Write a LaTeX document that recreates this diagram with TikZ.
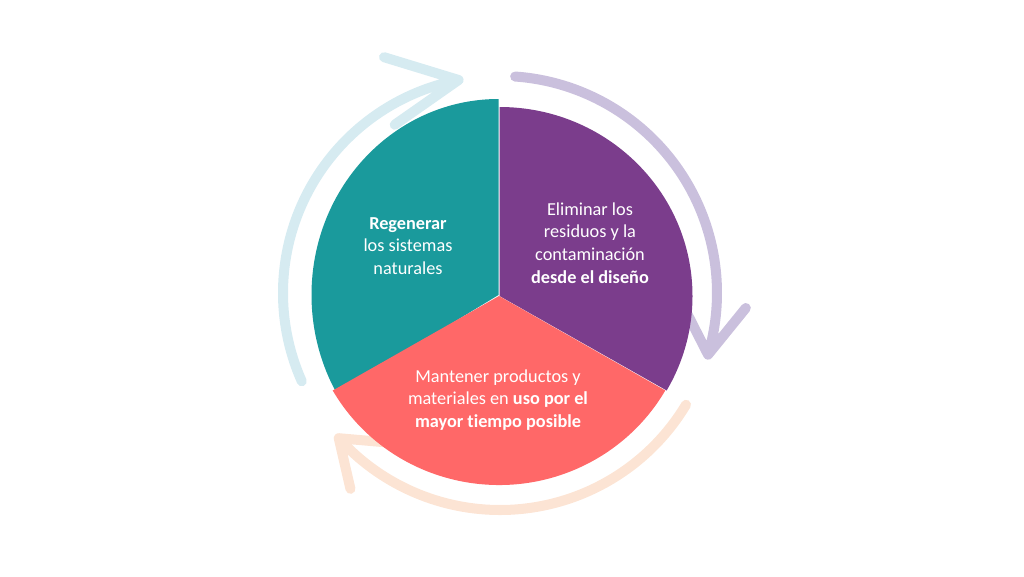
\documentclass[tikz,border=0pt]{standalone}
\usepackage{fontspec}
\setmainfont{Carlito}[Ligatures=NoCommon]
\usetikzlibrary{positioning}
\definecolor{tealsec}{RGB}{26,154,156}
\definecolor{purplesec}{RGB}{123,61,140}
\definecolor{redsec}{RGB}{255,104,104}
\definecolor{tealarrow}{RGB}{214,235,241}
\definecolor{purplearrow}{RGB}{202,192,221}
\definecolor{redarrow}{RGB}{252,228,212}
\def\R{217}
\tikzset{
  cyclearrow/.style={line width=5.7pt, line cap=round, line join=round},
  sectortext/.style={text=white, align=center, font=\fontsize{10.4}{13}\selectfont},
}

\begin{document}
\begin{tikzpicture}[x=0.02cm,y=0.02cm]
  \useasboundingbox (0,0) rectangle (1024,576);
  \coordinate (c) at (500,283);

  % arrows round the circle, behind the sectors
  \draw[cyclearrow, tealarrow] ([shift={(204:\R)}]c)
    arc[start angle=204, end angle=101, radius=\R] coordinate (tipA)
    +(163:78) -- (tipA) -- +(215:78);
  \draw[cyclearrow, purplearrow] ([shift={(86:\R)}]c)
    arc[start angle=86, end angle=-16.5, radius=\R] coordinate (tipB)
    +(51:60) -- (tipB) -- +(117:63);
  \draw[cyclearrow, redarrow] ([shift={(-31:\R)}]c)
    arc[start angle=-31, end angle=-138, radius=\R] coordinate (tipC)
    +(-5:55) -- (tipC) -- +(-77:52);

  % sectors
  \fill[tealsec] (498.5,281) -- ++(0,196)
    arc[start angle=90, end angle=210, x radius=187, y radius=196] -- cycle;
  \fill[purplesec] (499.5,280) -- ++(0,189)
    arc[start angle=90, end angle=-30, x radius=193, y radius=189] -- cycle;
  \fill[redsec] (499,280) -- ++(210:192 and 189)
    arc[start angle=210, end angle=330, x radius=192, y radius=189] -- cycle;

  % texts
  \node[sectortext] (regen) at (408,330) {\textbf{Regenerar}\\los sistemas\\naturales};
  \node[sectortext] (elim) at (590,333) {Eliminar los\\residuos y la\\contaminación\\\textbf{desde el diseño}};
  \node[sectortext] (mant) at (498,176) {Mantener productos y\\materiales en \textbf{uso por el}\\\textbf{mayor tiempo posible}};

\end{tikzpicture}
\end{document}
